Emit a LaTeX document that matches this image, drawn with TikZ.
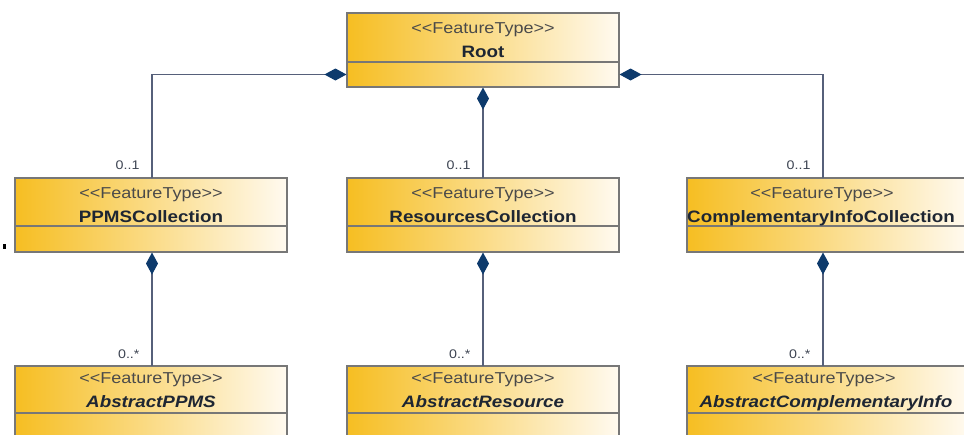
\documentclass[tikz,border=0pt]{standalone}
\usepackage{fontspec}
\newfontfamily\umlfont[FakeStretch=1.14]{Liberation Sans}
\usetikzlibrary{arrows.meta,calc}
\definecolor{gold}{HTML}{F6BE22}
\definecolor{cream}{HTML}{FFFAF0}
\definecolor{boxedge}{HTML}{777777}
\definecolor{conncol}{HTML}{56607A}
\definecolor{navy}{HTML}{0D3A6C}
\definecolor{stereocol}{HTML}{4A4A4A}
\definecolor{namecol}{HTML}{1E2633}
\definecolor{multcol}{HTML}{3D4452}
\pgfdeclarehorizontalshading{umlshade}{100bp}{color(0bp)=(gold); color(25bp)=(gold); color(48bp)=(gold!55!cream); color(75bp)=(cream); color(100bp)=(cream)}
\tikzset{
  part/.style={draw=boxedge, line width=1.1pt, shading=umlshade, inner sep=0pt, minimum width=272pt},
  stereo/.style={anchor=base, text=stereocol, font=\umlfont\fontsize{15.8}{17}\selectfont},
  cname/.style={anchor=base, text=namecol, font=\umlfont\fontsize{16.5}{18}\selectfont\bfseries},
  aname/.style={anchor=base, text=namecol, font=\umlfont\fontsize{16.5}{18}\selectfont\bfseries\itshape},
  mult/.style={anchor=base east, text=multcol, font=\umlfont\fontsize{12.5}{14}\selectfont},
  connector/.style={draw=conncol, line width=1.2pt},
  comp/.style={{Diamond[length=22pt,width=12pt,color=navy]}-},
}
\begin{document}
\begin{tikzpicture}[x=1pt,y=-1pt]
\useasboundingbox (0,0) rectangle (964,434);
\clip (0,0) rectangle (964,434);
% Root
\node[part, minimum height=49pt] (rootH) at (483,37.5) {};
\node[part, minimum height=25pt] (rootB) at (483,74.5) {};
\node[stereo] (rootS) at (483,33) {<<FeatureType>>};
\node[cname] (rootN) at (483,57) {Root};
% Row 2
\node[part, minimum height=48pt] (ppmsH) at (151,202) {};
\node[part, minimum height=26pt] (ppmsB) at (151,239) {};
\node[stereo] (ppmsS) at (151,198) {<<FeatureType>>};
\node[cname] (ppmsN) at (151,222) {PPMSCollection};
\node[part, minimum height=48pt] (resH) at (483,202) {};
\node[part, minimum height=26pt] (resB) at (483,239) {};
\node[stereo] (resS) at (483,198) {<<FeatureType>>};
\node[cname] (resN) at (483,222) {ResourcesCollection};
\node[part, minimum height=48pt, minimum width=281pt] (ciH) at (827.5,202) {};
\node[part, minimum height=26pt, minimum width=281pt] (ciB) at (827.5,239) {};
\node[stereo] (ciS) at (822,198) {<<FeatureType>>};
\node[cname] (ciN) at (821,222) {ComplementaryInfoCollection};
% Row 3
\node[part, minimum height=47pt] (apH) at (151,389.5) {};
\node[part, minimum height=27pt] (apB) at (151,426.5) {};
\node[stereo] (apS) at (151,383) {<<FeatureType>>};
\node[aname] (apN) at (151,407) {AbstractPPMS};
\node[part, minimum height=47pt] (arH) at (483,389.5) {};
\node[part, minimum height=27pt] (arB) at (483,426.5) {};
\node[stereo] (arS) at (483,383) {<<FeatureType>>};
\node[aname] (arN) at (483,407) {AbstractResource};
\node[part, minimum height=47pt, minimum width=281pt] (acH) at (827.5,389.5) {};
\node[part, minimum height=27pt, minimum width=281pt] (acB) at (827.5,426.5) {};
\node[stereo] (acS) at (824,383) {<<FeatureType>>};
\node[aname] (acN) at (826,407) {AbstractComplementaryInfo};
% connectors
\coordinate (c1) at (152,178);
\coordinate (c2) at (483,178);
\coordinate (c3) at (823,178);
\draw[connector, comp] (rootB.west) -| (c1);
\draw[connector, comp] (rootB.south) -- (c2);
\draw[connector, comp] (rootB.east) -| (c3);
\coordinate (d1) at (152,366);
\coordinate (d2) at (483,366);
\coordinate (d3) at (823,366);
\draw[connector, comp] (c1 |- ppmsB.south) -- (d1);
\draw[connector, comp] (c2 |- resB.south) -- (d2);
\draw[connector, comp] (c3 |- ciB.south) -- (d3);
% multiplicities
\node[mult] (m1) at ($(c1)+(-9,-9)$) {0..1};
\node[mult] (m2) at ($(c2)+(-9,-9)$) {0..1};
\node[mult] (m3) at ($(c3)+(-9,-9)$) {0..1};
\node[mult] (m4) at ($(d1)+(-9,-8)$) {0..*};
\node[mult] (m5) at ($(d2)+(-9,-8)$) {0..*};
\node[mult] (m6) at ($(d3)+(-9,-8)$) {0..*};
% stray mark
\fill[black] (3,244) rectangle (6,249);
\end{tikzpicture}
\end{document}
